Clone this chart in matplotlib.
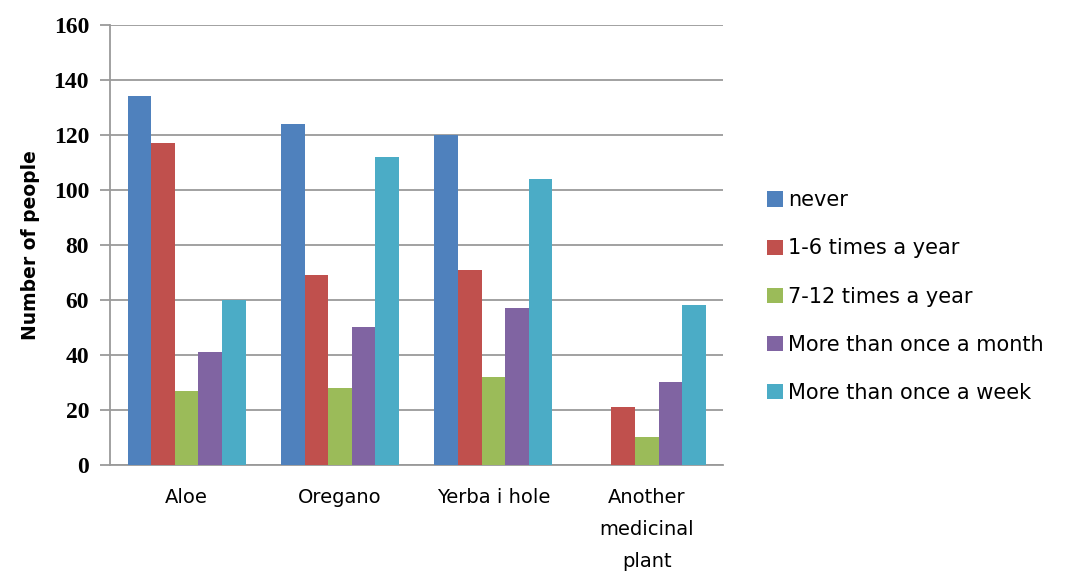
import matplotlib.pyplot as plt
import numpy as np

categories = ["Aloe", "Oregano", "Yerba i hole", "Another\nmedicinal\nplant"]
series_names = ["never", "1-6 times a year", "7-12 times a year",
                "More than once a month", "More than once a week"]
never = [134, 124, 120, 0]
times_1_6 = [117, 69, 71, 21]
times_7_12 = [27, 28, 32, 10]
more_month = [41, 50, 57, 30]
more_week = [60, 112, 104, 58]
colors = ["#4F81BD", "#C0504D", "#9BBB59", "#8064A2", "#4BACC6"]

all_values = [never, times_1_6, times_7_12, more_month, more_week]

fig = plt.figure(figsize=(10.67, 5.76), dpi=100)
ax = fig.add_axes([0.103, 0.193, 0.575, 0.764])

index = np.arange(len(categories))
bar_width = 0.154
for i, (vals, name, col) in enumerate(zip(all_values, series_names, colors)):
    offs = (i - 2) * bar_width
    ax.bar(index + offs, vals, bar_width, label=name, color=col, zorder=3)

ax.set_xlim(-0.5, len(categories) - 0.5)
ax.set_ylim(0, 160)
ax.set_yticks(range(0, 161, 20))
ax.yaxis.grid(True, color="#9a9a9a", linewidth=1.3, zorder=0)
ax.set_axisbelow(True)

for s in ["top", "right"]:
    ax.spines[s].set_visible(False)
for s in ["left", "bottom"]:
    ax.spines[s].set_color("#9a9a9a")
    ax.spines[s].set_linewidth(1.3)

ax.tick_params(axis="y", direction="out", length=7, color="#9a9a9a", width=1.3, pad=8)
ax.tick_params(axis="x", length=0, pad=17)
ax.set_xticks(index)
ax.set_xticklabels(categories, fontsize=14, linespacing=1.85)
for lbl in ax.get_yticklabels():
    lbl.set_family("Liberation Serif")
    lbl.set_fontweight("bold")
    lbl.set_fontsize(17)

ax.set_ylabel("Number of people", fontsize=13.5, fontweight="bold", labelpad=10)

fig.legend(*ax.get_legend_handles_labels(), loc="upper left",
           bbox_to_anchor=(0.711, 0.684), borderaxespad=0, frameon=False,
           fontsize=15, handlelength=0.75, handleheight=0.75, handletextpad=0.25,
           labelspacing=1.35)

fig.savefig("out.png", dpi=100)
